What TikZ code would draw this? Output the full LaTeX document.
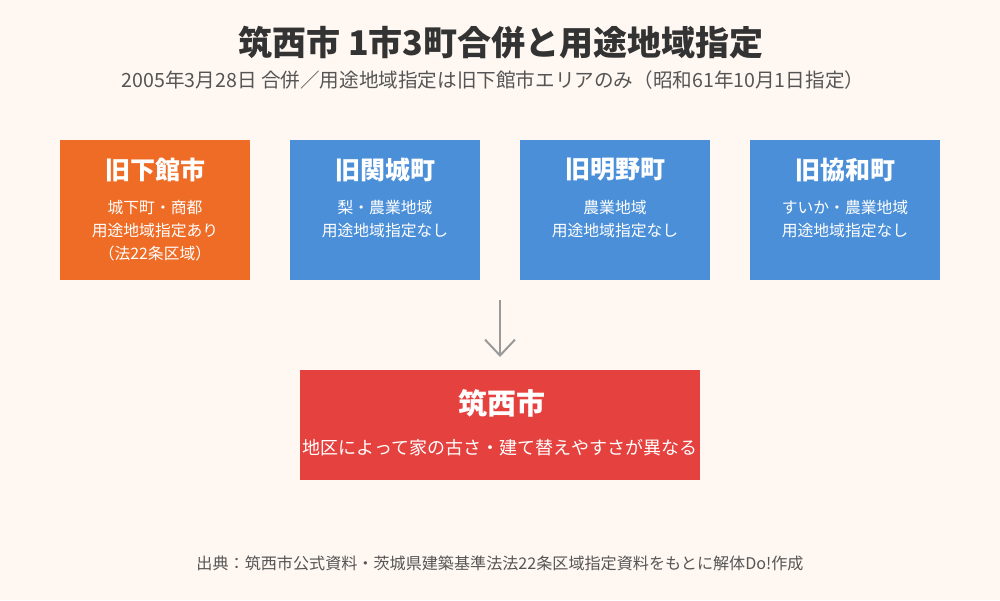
\documentclass[tikz,border=0pt]{standalone}
\usepackage{fontspec}
\setmainfont{Noto Sans CJK JP}
\usetikzlibrary{arrows.meta}

\definecolor{bgcream}{HTML}{FFF8F2}
\definecolor{kyuorange}{HTML}{EE6C25}
\definecolor{kyublue}{HTML}{4A8FD8}
\definecolor{newred}{HTML}{E5413E}
\definecolor{titlegray}{HTML}{333333}
\definecolor{subgray}{HTML}{555555}
\definecolor{arrgray}{HTML}{9A9A9A}

\begin{document}
\begin{tikzpicture}[x=1pt,y=-1pt,>={Straight Barb[length=16pt,width=30pt]},line cap=round,line join=round,
  townbox/.style={rectangle,inner sep=0pt,minimum width=190pt,minimum height=140pt},
  townname/.style={text=white,font=\fontsize{25}{30}\selectfont\bfseries},
  towninfo/.style={text=white,align=center,font=\fontsize{15.8}{23}\selectfont}]
\fill[bgcream] (0,0) rectangle (1000,600);
\node[text=titlegray,font=\fontsize{34}{38}\selectfont\bfseries] (title) at (501,43) {筑西市 1市3町合併と用途地域指定};
\node[text=subgray,font=\fontsize{19.6}{22}\selectfont] (subtitle) at (493,80) {2005年3月28日 合併／用途地域指定は旧下館市エリアのみ（昭和61年10月1日指定）};
% four old towns
\node[townbox,fill=kyuorange] (shimodate) at (155,210) {};
\node[townname] (shimodateN) at (155,170) {旧下館市};
\node[towninfo,anchor=north] (shimodateI) at (155,197) {城下町・商都\\用途地域指定あり\\（法22条区域）};
\node[townbox,fill=kyublue] (sekijo) at (385,210) {};
\node[townname] (sekijoN) at (385,170) {旧関城町};
\node[towninfo,anchor=north] (sekijoI) at (385,197) {梨・農業地域\\用途地域指定なし};
\node[townbox,fill=kyublue] (akeno) at (615,210) {};
\node[townname] (akenoN) at (615,170) {旧明野町};
\node[towninfo,anchor=north] (akenoI) at (615,197) {農業地域\\用途地域指定なし};
\node[townbox,fill=kyublue] (kyowa) at (845,210) {};
\node[townname] (kyowaN) at (845,170) {旧協和町};
\node[towninfo,anchor=north] (kyowaI) at (845,197) {すいか・農業地域\\用途地域指定なし};
% merge
\coordinate (arrS) at (500,300);
\coordinate (arrE) at (500,357);
\draw[->,arrgray,line width=2pt,line cap=butt] (arrS) -- (arrE);
\node[rectangle,inner sep=0pt,minimum width=400pt,minimum height=110pt,fill=newred] (chikusei) at (500,425) {};
\node[text=white,font=\fontsize{29}{32}\selectfont\bfseries] (chikuseiN) at (502,403) {筑西市};
\node[text=white,font=\fontsize{18}{22}\selectfont] (chikuseiI) at (500,448) {地区によって家の古さ・建て替えやすさが異なる};
\node[text=subgray,font=\fontsize{16.1}{18}\selectfont] (source) at (500,563) {出典：筑西市公式資料・茨城県建築基準法法22条区域指定資料をもとに解体Do!作成};
\end{tikzpicture}
\end{document}
